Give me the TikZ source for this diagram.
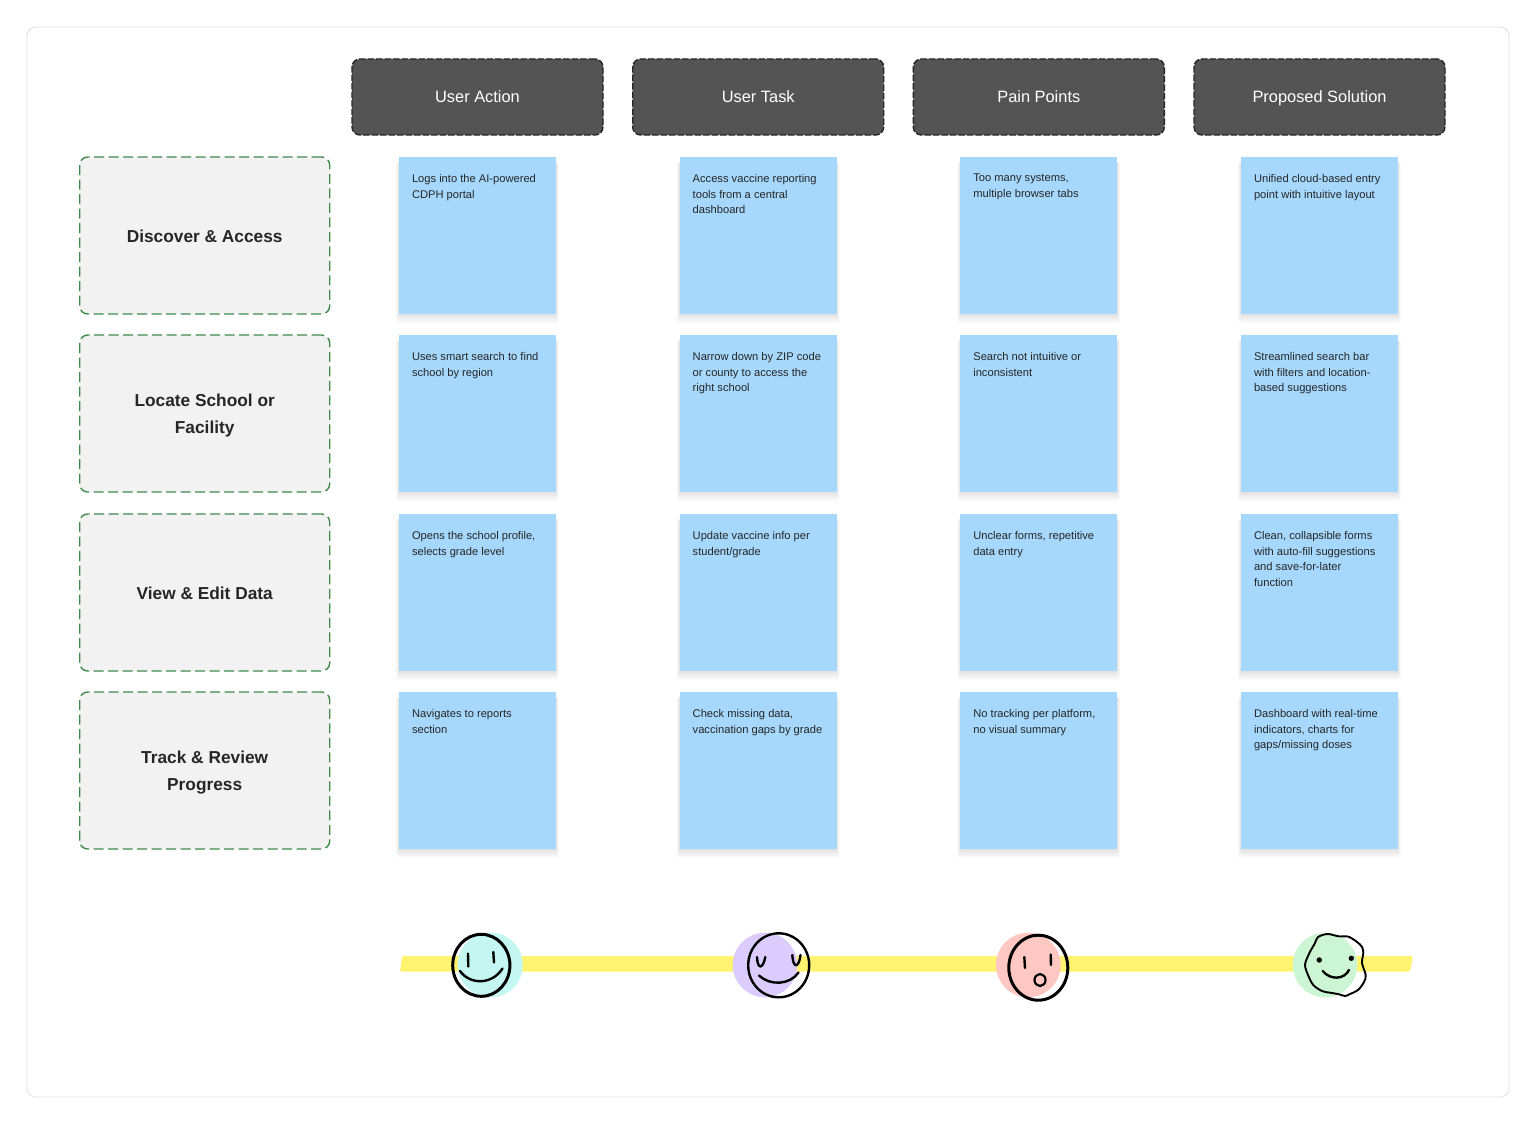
\documentclass[tikz,border=0pt]{standalone}
\usepackage{fontspec}
\setmainfont{Liberation Sans}
\definecolor{cardblue}{HTML}{A6D8FD}
\definecolor{bandyellow}{HTML}{FFF36F}
\definecolor{labelgreen}{HTML}{3F8A4B}
\definecolor{teal}{HTML}{C4F7F2}
\definecolor{lilac}{HTML}{DCCBFD}
\definecolor{blush}{HTML}{FFC7C2}
\definecolor{mint}{HTML}{CCF5D3}
\tikzset{
  framebox/.style={draw=black!12,fill=white,line width=0.8pt,rounded corners=9pt},
  headbox/.style={draw=black!85,fill=black!67,dash pattern=on 6.5pt off 2pt,line width=1.4pt,rounded corners=8pt,minimum width=251pt,minimum height=76pt,anchor=north west,inner sep=0pt,outer sep=0pt,text=white,text height=11pt,text depth=-1pt,font=\fontsize{16.4}{20}\selectfont},
  rowbox/.style={draw=labelgreen,fill=black!5,dash pattern=on 10pt off 4.5pt,line width=1.4pt,rounded corners=8pt,minimum width=250pt,minimum height=157pt,anchor=north west,inner sep=0pt,outer sep=0pt,align=center,text=black!85,font=\fontsize{17.3}{27}\selectfont\bfseries},
  cardbox/.style={fill=cardblue,minimum width=157pt,minimum height=157pt,anchor=north west,inner sep=0pt,outer sep=0pt,text=black!85,font=\fontsize{11.15}{15.7}\selectfont},
  softshade/.style={fill=black,fill opacity=0.014},
  faceline/.style={draw=black,line width=3pt,line cap=round},
  featline/.style={draw=black,line width=2.4pt,line cap=round}
}
\newcommand{\stickycard}[4]{%
  \foreach \d in {0,1,...,7}{\fill[softshade,rounded corners=2pt] ({#2-\d*0.4},{#3+5}) rectangle ({#2+157+\d*0.4},{#3+157+\d*1.3});}%
  \node[cardbox] (#1) at (#2,#3) {\parbox[c][157pt][t]{157pt}{\vspace*{17.3pt}\raggedright\leftskip=13pt\rightskip=-20pt #4}};%
}
\newcommand{\lowered}[2]{\raisebox{-#1pt}[\height][\depth]{\parbox{240pt}{\centering #2}}}
\begin{document}
\begin{tikzpicture}[x=1pt,y=-1pt]
\useasboundingbox (0,0) rectangle (1536,1124);
\fill[white] (0,0) rectangle (1536,1124);
\path[framebox] (27,27) rectangle (1509,1097);

\node[headbox] (h1) at (352,59) {User Action};
\node[headbox] (h2) at (632.7,59) {User Task};
\node[headbox] (h3) at (913.3,59) {Pain Points};
\node[headbox] (h4) at (1194,59) {Proposed Solution};

\node[rowbox] (r1) at (79.7,157) {\lowered{1}{Discover \& Access}};
\node[rowbox] (r2) at (79.7,335) {\lowered{2}{Locate School or\\Facility}};
\node[rowbox] (r3) at (79.7,514) {\lowered{1}{View \& Edit Data}};
\node[rowbox] (r4) at (79.7,692) {\lowered{2}{Track \& Review\\Progress}};

\stickycard{c11}{399}{157}{Logs into the AI-powered\\CDPH portal}
\stickycard{c12}{679.7}{157}{Access vaccine reporting\\tools from a central\\dashboard}
\stickycard{c13}{960.3}{157}{Too many systems,\\multiple browser tabs}
\stickycard{c14}{1241}{157}{Unified cloud-based entry\\point with intuitive layout}
\stickycard{c21}{399}{335}{Uses smart search to find\\school by region}
\stickycard{c22}{679.7}{335}{Narrow down by ZIP code\\or county to access the\\right school}
\stickycard{c23}{960.3}{335}{Search not intuitive or\\inconsistent}
\stickycard{c24}{1241}{335}{Streamlined search bar\\with filters and location-\\based suggestions}
\stickycard{c31}{399}{514}{Opens the school profile,\\selects grade level}
\stickycard{c32}{679.7}{514}{Update vaccine info per\\student/grade}
\stickycard{c33}{960.3}{514}{Unclear forms, repetitive\\data entry}
\stickycard{c34}{1241}{514}{Clean, collapsible forms\\with auto-fill suggestions\\and save-for-later\\function}
\stickycard{c41}{399}{692}{Navigates to reports\\section}
\stickycard{c42}{679.7}{692}{Check missing data,\\vaccination gaps by grade}
\stickycard{c43}{960.3}{692}{No tracking per platform,\\no visual summary}
\stickycard{c44}{1241}{692}{Dashboard with real-time\\indicators, charts for\\gaps/missing doses}

% band
\fill[bandyellow,rounded corners=1.5pt] (402,956) -- (1413,956) -- (1410,971.7) -- (400,971.7) -- cycle;

% face 1
\fill[teal] (490.3,965) circle (32.5);
\draw[faceline] (481.3,965.3) ellipse (28.6 and 31);
\draw[featline] (468,953.5) -- (468.3,966.5);
\draw[featline] (493.3,952) -- (494,962.5);
\draw[featline] (460,971) .. controls (470,985) and (492,985) .. (502.5,968.5);

% face 2
\fill[lilac] (765,965) circle (32.3);
\draw[draw=black,line width=2.4pt] (778.7,965.3) ellipse (30.5 and 32);
\draw[featline] (757,957) .. controls (757.5,970) and (763,969) .. (765.3,957);
\draw[featline] (792.3,955) .. controls (793,969) and (799,968) .. (800.5,955);
\draw[featline] (759,975.5) .. controls (770,986) and (790,985) .. (798.5,972.5);

% face 3
\fill[blush] (1028.3,965) circle (32.3);
\draw[faceline] (1038.3,967.7) ellipse (29.5 and 32.5);
\draw[featline] (1024.3,957) -- (1025,968);
\draw[featline] (1050.7,954.5) -- (1051,965);
\draw[draw=black,line width=2.2pt] (1040,980) ellipse (5.5 and 6);

% face 4
\fill[mint] (1325,965) circle (32.3);
\draw[draw=black,line width=1.9pt] plot[smooth cycle,tension=0.55] coordinates {
 (1326.7,934) (1333,935) (1340,936.5) (1348,936.5) (1356.7,941.7) (1362,947) (1363.3,953) (1362,963) (1365.7,975) (1364,982)
 (1358,990) (1350,994) (1345,996) (1338,994) (1330,992.7) (1322,991) (1313.3,985) (1308,975) (1305,965) (1308,956) (1310,951.7) (1315,943) (1318,937)};
\fill[black] (1319.3,960) circle (2.7);
\fill[black] (1351.3,958.3) circle (2.7);
\draw[featline] (1322.7,971) .. controls (1330,980) and (1344,980) .. (1349,970);
\end{tikzpicture}
\end{document}
